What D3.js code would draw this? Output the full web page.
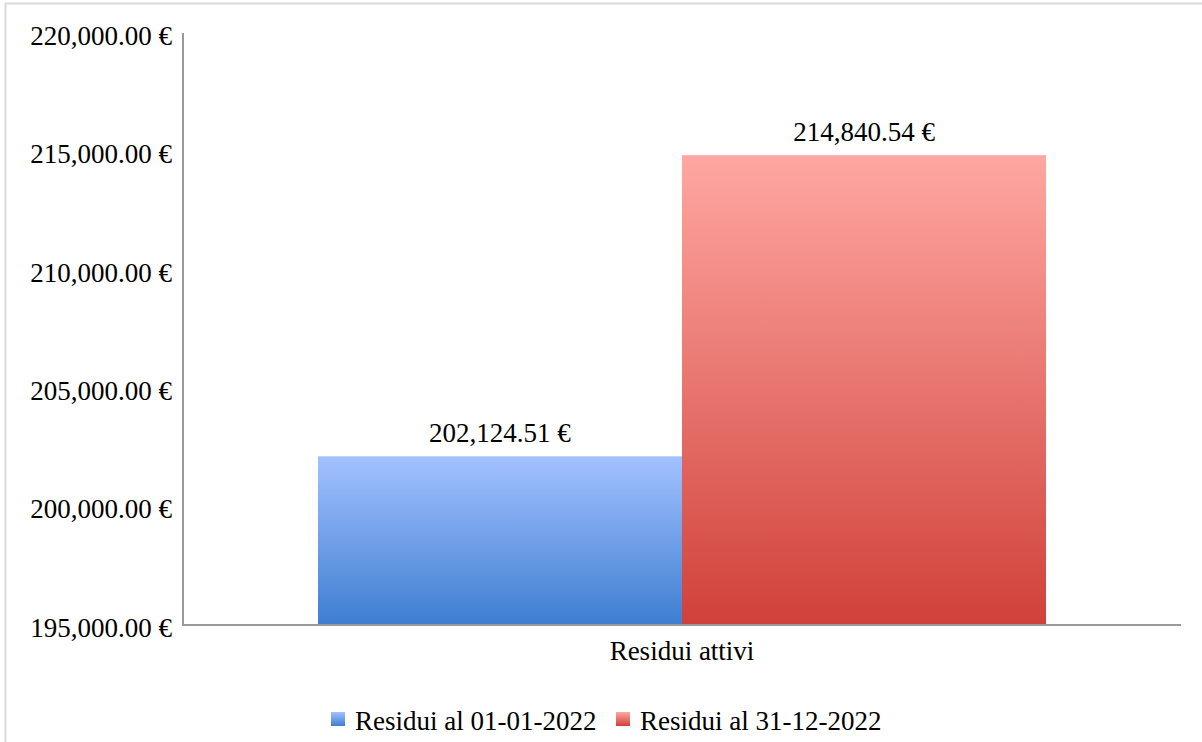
<!DOCTYPE html>
<html>
<head>
<meta charset="utf-8">
<script src="https://cdn.jsdelivr.net/npm/d3@7"></script>
<style>
  body { margin: 0; background: #fff; }
  text { font-family: "Liberation Serif", serif; fill: #000; }
</style>
</head>
<body>
<div id="chart"></div>
<script>
// data
var categories = ["Residui attivi"];
var seriesNames = ["Residui al 01-01-2022", "Residui al 31-12-2022"];
var seriesValues = [202124.51, 214840.54];
var yTicks = [195000, 200000, 205000, 210000, 215000, 220000];

var svgWidth = 1202;
var svgHeight = 742;
var margin = { top: 33, right: 21, bottom: 117, left: 183 };
var chartWidth = svgWidth - margin.left - margin.right;
var chartHeight = svgHeight - margin.top - margin.bottom;

var colors = [
  { top: "#a3c1ff", bottom: "#3e7ed1" },
  { top: "#ffa7a2", bottom: "#d0413a" }
];

var svg = d3.select("#chart")
  .append("svg")
  .attr("width", svgWidth)
  .attr("height", svgHeight);

// gradients
var defs = svg.append("defs");
colors.forEach(function(c, i) {
  var g = defs.append("linearGradient")
    .attr("id", "grad" + i)
    .attr("x1", 0).attr("y1", 0).attr("x2", 0).attr("y2", 1);
  g.append("stop").attr("offset", "0%").attr("stop-color", c.top);
  g.append("stop").attr("offset", "100%").attr("stop-color", c.bottom);
});

// outer frame
svg.append("rect")
  .attr("x", 5.5)
  .attr("y", 3.5)
  .attr("width", svgWidth + 10)
  .attr("height", svgHeight + 10)
  .attr("fill", "none")
  .attr("stroke", "#dadada")
  .attr("stroke-width", 2);

var chartGroup = svg.append("g")
  .attr("transform", `translate(${margin.left}, ${margin.top})`);

// scales
var x0 = d3.scaleBand()
  .domain(categories)
  .range([0, chartWidth])
  .paddingInner(0)
  .paddingOuter(0.1854);

var x1 = d3.scaleBand()
  .domain(seriesNames)
  .range([0, x0.bandwidth()]);

var yScale = d3.scaleLinear()
  .domain([195000, 220000])
  .range([chartHeight, 0]);

var fmt = function(v) {
  return d3.format(",.2f")(v) + " €";
};

// y tick labels
var leftAxis = d3.axisLeft(yScale)
  .tickValues(yTicks)
  .tickSize(0)
  .tickPadding(11)
  .tickFormat(fmt);

var yAxisG = chartGroup.append("g").call(leftAxis);
yAxisG.select(".domain").remove();
yAxisG.selectAll("text")
  .style("font-family", "Liberation Serif")
  .style("font-size", "27px")
  .attr("dy", "0.42em");

// bars
var bars = chartGroup.selectAll(".bar")
  .data(seriesValues)
  .enter()
  .append("rect")
  .attr("class", "bar")
  .attr("x", (d, i) => x0(categories[0]) + x1(seriesNames[i]))
  .attr("y", d => yScale(d))
  .attr("width", x1.bandwidth())
  .attr("height", d => chartHeight - yScale(d))
  .attr("fill", (d, i) => `url(#grad${i})`);

// value labels
chartGroup.selectAll(".vlabel")
  .data(seriesValues)
  .enter()
  .append("text")
  .attr("class", "vlabel")
  .attr("x", (d, i) => x0(categories[0]) + x1(seriesNames[i]) + x1.bandwidth() / 2)
  .attr("y", d => yScale(d) - 14)
  .attr("text-anchor", "middle")
  .style("font-size", "27px")
  .text(d => fmt(d));

// axis lines
chartGroup.append("line")
  .attr("x1", 0).attr("x2", 0)
  .attr("y1", 0).attr("y2", chartHeight + 1)
  .attr("stroke", "#999")
  .attr("stroke-width", 2);

chartGroup.append("line")
  .attr("x1", 0).attr("x2", chartWidth)
  .attr("y1", chartHeight).attr("y2", chartHeight)
  .attr("stroke", "#999")
  .attr("stroke-width", 2);

// category label
chartGroup.selectAll(".clabel")
  .data(categories)
  .enter()
  .append("text")
  .attr("class", "clabel")
  .attr("x", d => x0(d) + x0.bandwidth() / 2)
  .attr("y", chartHeight + 35)
  .attr("text-anchor", "middle")
  .style("font-size", "27px")
  .text(d => d);

// legend
var legendX = [331, 616];
var legend = svg.selectAll(".legend")
  .data(seriesNames)
  .enter()
  .append("g")
  .attr("class", "legend")
  .attr("transform", (d, i) => `translate(${legendX[i]}, 712)`);

legend.append("rect")
  .attr("width", 14)
  .attr("height", 14)
  .attr("fill", (d, i) => `url(#grad${i})`);

legend.append("text")
  .attr("x", 24)
  .attr("y", 18)
  .style("font-size", "27px")
  .text(d => d);
</script>
</body>
</html>
